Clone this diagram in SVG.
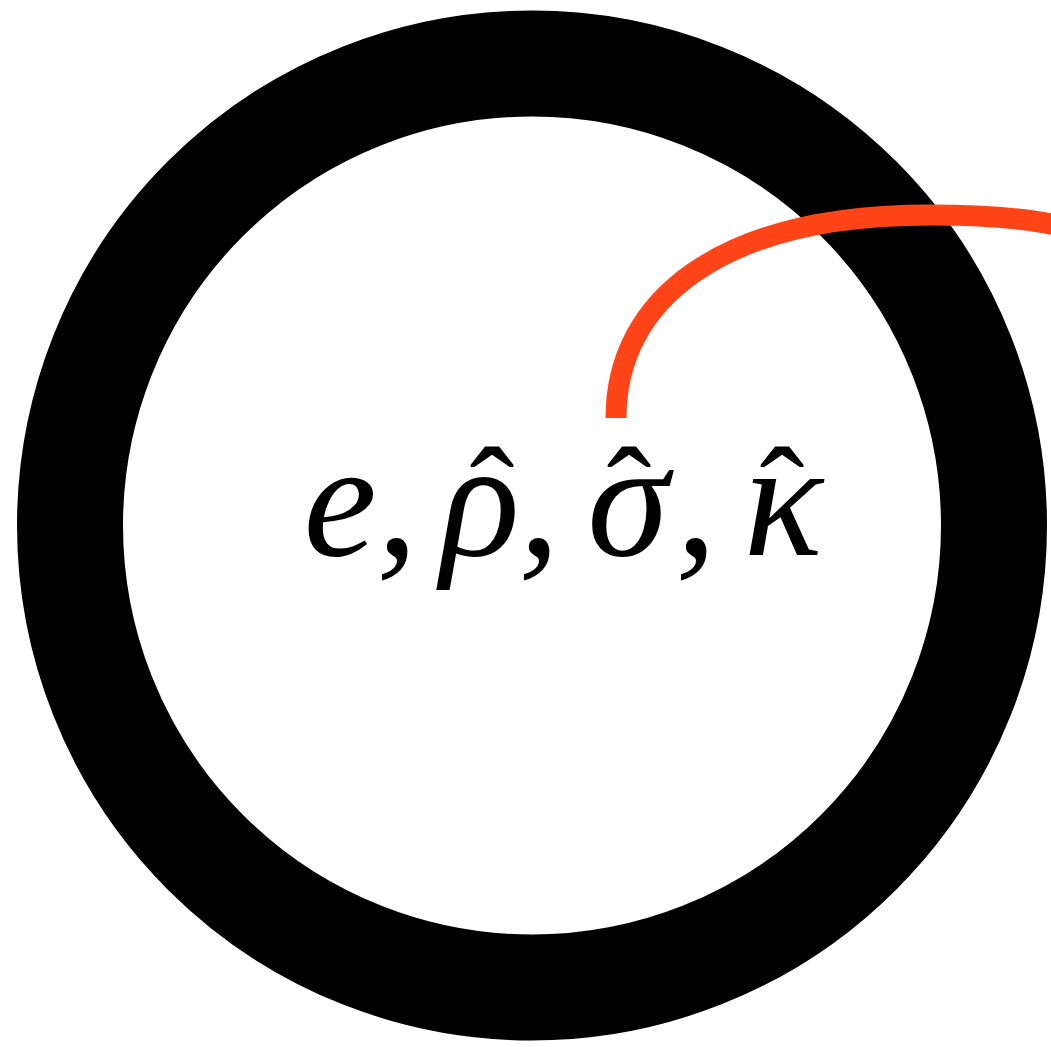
<svg xmlns="http://www.w3.org/2000/svg" width="1051" height="1047" viewBox="0 0 1051 1047">
<style>
.m{font-family:"Liberation Serif","Times New Roman",serif;font-style:italic;font-size:165px;fill:#000;text-anchor:middle}
.h{font-style:normal;font-size:135px}
</style>
<rect width="1051" height="1047" fill="#fff"/>
<g id="ring">
<circle cx="532" cy="525.5" r="462" fill="none" stroke="#000" stroke-width="106"/>
</g>
<g id="connectors">
<path d="M616,418 C616,300 720,215 930,215 C990,215 1030,219 1060,226" fill="none" stroke="#FF4517" stroke-width="21"/>
</g>
<g id="label">
<text class="m"><tspan x="340" y="555">e</tspan><tspan x="397" y="555">,</tspan><tspan x="480" y="555">ρ</tspan><tspan class="h" x="492" y="541">ˆ</tspan><tspan x="539" y="555">,</tspan><tspan x="628" y="555">σ</tspan><tspan class="h" x="629" y="541">ˆ</tspan><tspan x="696" y="555">,</tspan><tspan x="783" y="555">κ</tspan><tspan class="h" x="782" y="541">ˆ</tspan></text>
</g>
</svg>
